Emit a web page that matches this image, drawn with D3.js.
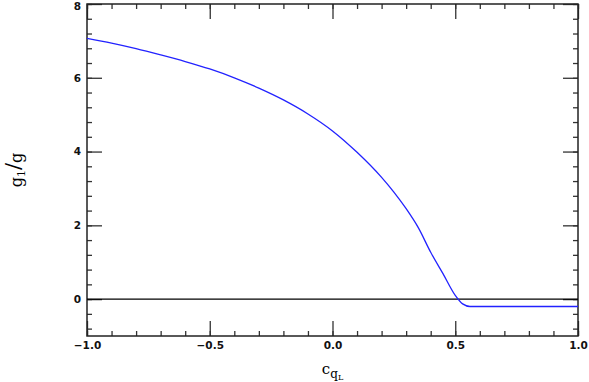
<!DOCTYPE html>
<html>
<head>
<meta charset="utf-8">
<script src="https://cdn.jsdelivr.net/npm/d3@7"></script>
<style>
    body { margin: 0; background: #fff; }
    svg { display: block; }
    .tick-label text { font-family: "DejaVu Sans", sans-serif; font-size: 10.5px; font-weight: bold; fill: #111; }
</style>
</head>
<body>
<svg id="chart" width="589" height="382"></svg>
<script>
// curve: c_qL against g1/g
var cqL = [-1.0, -0.9, -0.8, -0.7, -0.6, -0.5, -0.4, -0.3, -0.2, -0.1, 0.0, 0.1, 0.2, 0.25, 0.3, 0.35, 0.4, 0.45, 0.5, 0.53, 0.56, 0.7, 1.0];
var g1g = [7.07, 6.94, 6.79, 6.62, 6.44, 6.24, 6.00, 5.72, 5.40, 5.02, 4.56, 3.98, 3.30, 2.90, 2.45, 1.93, 1.27, 0.69, 0.10, -0.13, -0.2, -0.2, -0.2];

var xMajor = [-1.0, -0.5, 0.0, 0.5, 1.0];
var yMajor = [0, 2, 4, 6, 8];

var svg = d3.select('#chart');

var margin = {left: 87, right: 11, top: 4, bottom: 46},
    width = 589 - margin.left - margin.right,
    height = 382 - margin.top - margin.bottom;

var x = d3.scaleLinear().domain([-1, 1]).range([0, width]);
var y = d3.scaleLinear().domain([-1, 8]).range([height, 0]);

var g = svg.append('g')
    .attr('transform', 'translate(' + margin.left + ',' + margin.top + ')');

// minor ticks every 0.1 on x, every 0.4 on y
var xMinor = d3.range(-10, 11).map(function(d) { return d / 10; });
var yMinor = d3.range(-2, 21).map(function(d) { return d * 0.4; }).filter(function(d) { return d >= -1 && d <= 8; });

var styleAxis = function(sel) {
    sel.select('.domain').remove();
    sel.selectAll('line').attr('stroke', '#333').attr('stroke-width', 1.3);
};

g.append('g').attr('transform', 'translate(0,' + height + ')')
    .call(d3.axisBottom(x).tickValues(xMinor).tickSize(-5).tickFormat(''))
    .call(styleAxis);
g.append('g')
    .call(d3.axisTop(x).tickValues(xMinor).tickSize(-5).tickFormat(''))
    .call(styleAxis);
g.append('g')
    .call(d3.axisLeft(y).tickValues(yMinor).tickSize(-5).tickFormat(''))
    .call(styleAxis);
g.append('g').attr('transform', 'translate(' + width + ',0)')
    .call(d3.axisRight(y).tickValues(yMinor).tickSize(-5).tickFormat(''))
    .call(styleAxis);

// major ticks with labels
g.append('g').attr('class', 'tick-label').attr('transform', 'translate(0,' + height + ')')
    .call(d3.axisBottom(x).tickValues(xMajor).tickSize(-15).tickPadding(6).tickFormat(d3.format('.1f')))
    .call(styleAxis);
g.append('g')
    .call(d3.axisTop(x).tickValues(xMajor).tickSize(-15).tickFormat(''))
    .call(styleAxis);
var yAx = g.append('g').attr('class', 'tick-label')
    .call(d3.axisLeft(y).tickValues(yMajor).tickSize(-15).tickPadding(6).tickFormat(d3.format('d')))
    .call(styleAxis);
g.append('g').attr('transform', 'translate(' + width + ',0)')
    .call(d3.axisRight(y).tickValues(yMajor).tickSize(-15).tickFormat(''))
    .call(styleAxis);

g.selectAll('.tick-label text').attr('font-family', null).attr('font-size', null);
// top label sits a little lower so it stays inside the page
yAx.selectAll('text').filter(function(d) { return d === 8; }).attr('dy', '0.5em');

// frame
g.append('rect')
    .attr('width', width)
    .attr('height', height)
    .attr('fill', 'none')
    .attr('stroke', '#222')
    .attr('stroke-width', 1.5);

// zero line
g.append('line')
    .attr('x1', x(-1)).attr('x2', x(1))
    .attr('y1', y(0)).attr('y2', y(0))
    .attr('stroke', '#000')
    .attr('stroke-width', 1.2);

var line = d3.line()
    .x(function(d) { return x(d[0]); })
    .y(function(d) { return y(d[1]); })
    .curve(d3.curveMonotoneX);

g.append('path')
    .datum(d3.zip(cqL, g1g))
    .attr('fill', 'none')
    .attr('stroke', '#2222ff')
    .attr('stroke-width', 1.3)
    .attr('d', line);

// axis titles
var xt = svg.append('text')
    .attr('x', margin.left + x(0))
    .attr('y', 374)
    .attr('text-anchor', 'middle')
    .attr('font-family', 'DejaVu Serif, serif')
    .attr('font-size', 15);
xt.append('tspan').text('c');
xt.append('tspan').attr('dy', 4).attr('font-size', 12).text('q');
xt.append('tspan').attr('dy', 2).attr('font-size', 8).text('L');

var yt = svg.append('text')
    .attr('transform', 'translate(22,' + (margin.top + height / 2) + ') rotate(-90)')
    .attr('text-anchor', 'middle')
    .attr('font-family', 'DejaVu Serif, serif')
    .attr('font-size', 16);
yt.append('tspan').text('g');
yt.append('tspan').attr('dy', 3).attr('font-size', 11).text('1');
yt.append('tspan').attr('dy', -5).attr('font-size', 21).text('/');
yt.append('tspan').attr('dy', 2).text('g');
</script>
</body>
</html>
